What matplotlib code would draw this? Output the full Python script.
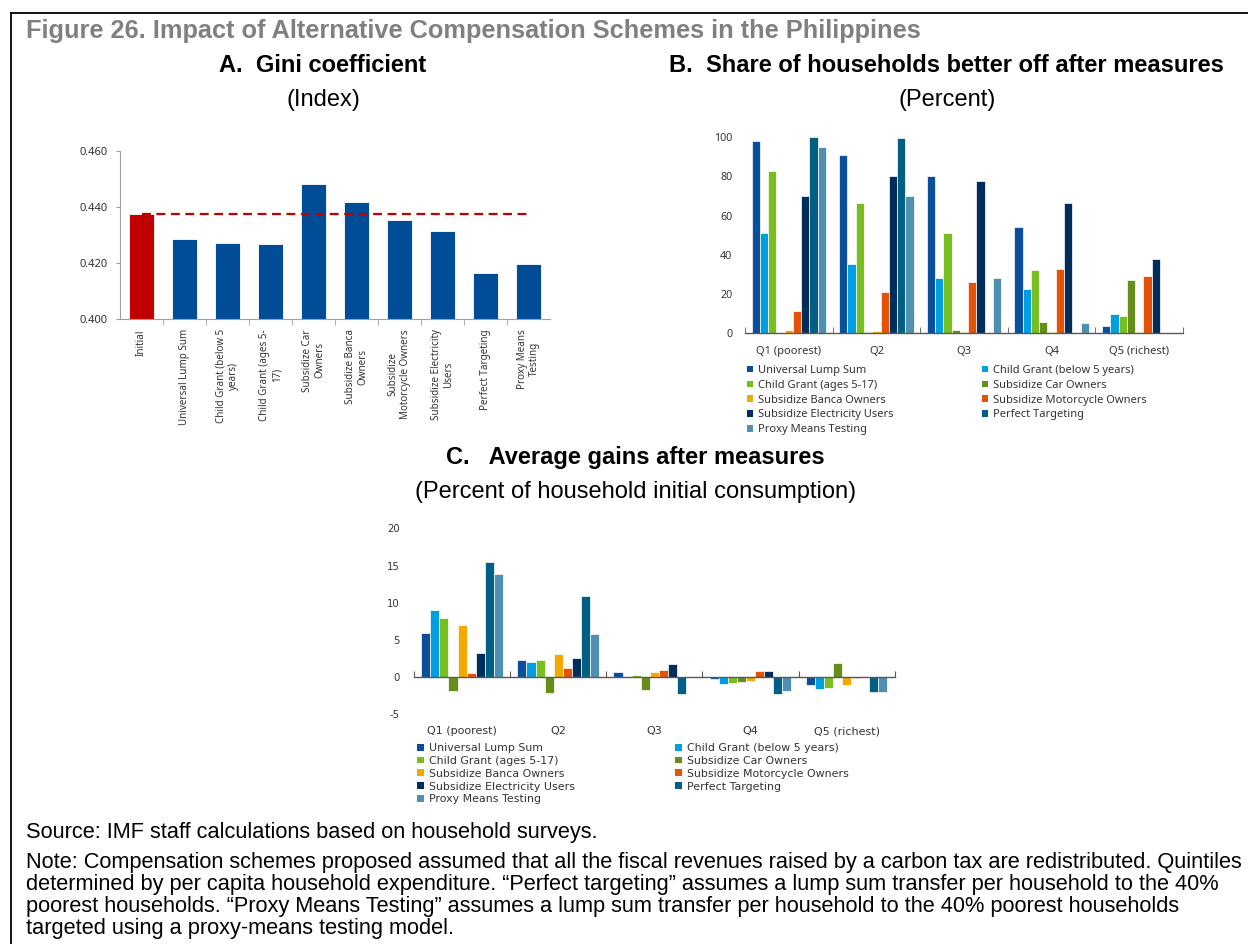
import matplotlib
matplotlib.use("Agg")
import matplotlib.pyplot as plt
import numpy as np
from matplotlib.lines import Line2D
from matplotlib.patches import Patch

plt.rcParams["axes.unicode_minus"] = False

# -------------------------
# Data
# -------------------------
gini_labels = ["Initial", "Universal Lump Sum", "Child Grant (below 5\nyears)",
               "Child Grant (ages 5-\n17)", "Subsidize Car\nOwners",
               "Subsidize Banca\nOwners", "Subsidize\nMotorcycle Owners",
               "Subsidize Electricity\nUsers", "Perfect Targeting",
               "Proxy Means\nTesting"]
gini_values = [0.4375, 0.4286, 0.4270, 0.4269, 0.4481, 0.4417, 0.4352,
               0.4313, 0.4164, 0.4198]
gini_initial = 0.4375

quintiles = ["Q1 (poorest)", "Q2", "Q3", "Q4", "Q5 (richest)"]
schemes = ["Universal Lump Sum", "Child Grant (below 5 years)",
           "Child Grant (ages 5-17)", "Subsidize Car Owners",
           "Subsidize Banca Owners", "Subsidize Motorcycle Owners",
           "Subsidize Electricity Users", "Perfect Targeting",
           "Proxy Means Testing"]
scheme_colors = ["#0B4F9C", "#00A0E0", "#78BE20", "#658D1B", "#F2A900",
                 "#E35205", "#012D5A", "#005F83", "#4F8FB0"]

# share of households better off (percent), one list per quintile
better_q1 = [98.3, 51.4, 82.8, 0.0, 1.7, 11.2, 70.2, 100.0, 95.2]
better_q2 = [91.0, 35.5, 66.5, 0.5, 1.2, 20.9, 80.1, 99.8, 70.2]
better_q3 = [80.4, 28.1, 51.2, 1.7, 0.7, 26.2, 77.7, 0.0, 28.1]
better_q4 = [54.3, 22.8, 32.1, 5.8, 0.7, 33.0, 66.3, 0.0, 5.3]
better_q5 = [3.9, 9.7, 8.7, 27.0, 0.7, 29.4, 38.1, 0.0, 0.0]

# average gains (percent of initial consumption), one list per quintile
gains_q1 = [5.9, 9.04, 8.0, -1.83, 7.02, 0.54, 3.22, 15.44, 13.87]
gains_q2 = [2.28, 2.06, 2.28, -2.15, 3.13, 1.16, 2.55, 10.96, 5.82]
gains_q3 = [0.67, 0.0, 0.27, -1.7, 0.67, 0.98, 1.79, -2.33, 0.0]
gains_q4 = [-0.22, -0.9, -0.85, -0.72, -0.49, 0.85, 0.85, -2.24, -1.92]
gains_q5 = [-1.07, -1.66, -1.52, 1.83, -1.12, -0.13, 0.0, -2.06, -2.06]

footnote_lines = [
    "Source: IMF staff calculations based on household surveys.",
    "Note: Compensation schemes proposed assumed that all the fiscal revenues raised by a carbon tax are redistributed. Quintiles",
    "determined by per capita household expenditure. \u201cPerfect targeting\u201d assumes a lump sum transfer per household to the 40%",
    "poorest households. \u201cProxy Means Testing\u201d assumes a lump sum transfer per household to the 40% poorest households",
    "targeted using a proxy-means testing model.",
]

W, H = 1248, 944
fig = plt.figure(figsize=(W / 100, H / 100), dpi=100)

TITLE_FONT = "Liberation Sans"
AXIS_FONT = "Noto Sans"
C_FONT = "DejaVu Sans"


def px_axes(x0, y0, x1, y1):
    return fig.add_axes([x0 / W, 1 - y1 / H, (x1 - x0) / W, (y1 - y0) / H])


def ftext(x, y, s, **kw):
    return fig.text(x / W, 1 - y / H, s, **kw)


# frame
fig.add_artist(Line2D([10.5 / W, 1.0], [1 - 12.5 / H, 1 - 12.5 / H],
                      color="black", lw=1.3, transform=fig.transFigure))
fig.add_artist(Line2D([10.5 / W, 10.5 / W], [1 - 12.5 / H, 0.0],
                      color="black", lw=1.3, transform=fig.transFigure))

# titles
ftext(26, 31, "Figure 26. Impact of Alternative Compensation Schemes in the Philippines",
      family=TITLE_FONT, fontsize=18.3, fontweight="bold", color="#808080",
      ha="left", va="center")
ftext(323, 65, "A.  Gini coefficient", family=TITLE_FONT, fontsize=17,
      fontweight="bold", ha="center", va="center")
ftext(323, 100, "(Index)", family=TITLE_FONT, fontsize=17, ha="center", va="center")
ftext(946, 65, "B.  Share of households better off after measures",
      family=TITLE_FONT, fontsize=17, fontweight="bold", ha="center", va="center")
ftext(947, 100, "(Percent)", family=TITLE_FONT, fontsize=17, ha="center", va="center")
ftext(635, 458, "C.   Average gains after measures", family=TITLE_FONT,
      fontsize=17, fontweight="bold", ha="center", va="center")
ftext(636, 492, "(Percent of household initial consumption)", family=TITLE_FONT,
      fontsize=17, ha="center", va="center")

# -------------------------
# Panel A
# -------------------------
ax_a = px_axes(120, 150.7, 550, 319.3)
xa = np.arange(len(gini_values))
a_colors = ["#C00000"] + ["#004C97"] * (len(gini_values) - 1)
ax_a.bar(xa, gini_values, width=0.59, color=a_colors, edgecolor="white", lw=0.6)
ax_a.hlines(gini_initial, xa[0], xa[-1], colors="#C00000", linestyles=(0, (4, 2.5)), lw=1.6)
ax_a.set_xlim(-0.5, len(gini_values) - 0.5)
ax_a.set_ylim(0.400, 0.460)
ax_a.set_yticks([0.400, 0.420, 0.440, 0.460])
ax_a.set_yticklabels(["%.3f" % v for v in [0.400, 0.420, 0.440, 0.460]])
ax_a.set_xticks(xa)
ax_a.set_xticklabels(gini_labels, rotation=90, ha="center", va="top",
                     multialignment="center")
ax_a.set_xticks(np.arange(0.5, len(gini_values) - 0.5), minor=True)
ax_a.tick_params(axis="x", which="major", length=0, pad=7, labelsize=7.1, labelcolor="#333333")
ax_a.tick_params(axis="x", which="minor", length=4, direction="out", color="#A0A0A0")
ax_a.tick_params(axis="y", length=3, direction="out", pad=6, labelsize=8,
                 color="#A0A0A0", labelcolor="#333333")
for lab in ax_a.get_xticklabels() + ax_a.get_yticklabels():
    lab.set_family(AXIS_FONT)
for side in ["top", "right"]:
    ax_a.spines[side].set_visible(False)
for side in ["left", "bottom"]:
    ax_a.spines[side].set_color("#A0A0A0")
    ax_a.spines[side].set_linewidth(0.8)

# -------------------------
# Panels B and C
# -------------------------
better = np.array([better_q1, better_q2, better_q3, better_q4, better_q5])
gains = np.array([gains_q1, gains_q2, gains_q3, gains_q4, gains_q5])
xq = np.arange(len(quintiles))
slot = 0.85 / len(schemes)
offsets = (np.arange(len(schemes)) - (len(schemes) - 1) / 2) * slot

order = [0, 2, 4, 6, 8, 1, 3, 5, 7]  # row-major legend in two columns
handles = [Patch(facecolor=c, edgecolor="none") for c in scheme_colors]

# Panel B
ax_b = px_axes(745, 137.3, 1183, 333.3)
for j, name in enumerate(schemes):
    ax_b.bar(xq + offsets[j], better[:, j], width=slot, color=scheme_colors[j],
             edgecolor="white", lw=0.5, label=name)
ax_b.set_xlim(-0.5, len(quintiles) - 0.5)
ax_b.set_ylim(0, 100)
ax_b.set_yticks([0, 20, 40, 60, 80, 100])
ax_b.set_xticks(xq)
ax_b.set_xticklabels(quintiles)
ax_b.set_xticks(np.arange(-0.5, len(quintiles)), minor=True)
ax_b.tick_params(axis="x", which="major", length=0, pad=9, labelsize=8, labelcolor="#333333")
ax_b.tick_params(axis="x", which="minor", length=4, direction="in", color="#595959")
ax_b.tick_params(axis="y", length=0, pad=9, labelsize=7.7, labelcolor="#333333")
for lab in ax_b.get_xticklabels() + ax_b.get_yticklabels():
    lab.set_family(AXIS_FONT)
for side in ["top", "right", "left"]:
    ax_b.spines[side].set_visible(False)
ax_b.spines["bottom"].set_color("#595959")
ax_b.spines["bottom"].set_linewidth(1.0)
leg_b = ax_b.legend([handles[i] for i in order], [schemes[i] for i in order],
                    ncol=2, loc="upper left", frameon=False,
                    bbox_to_anchor=(747 / W, 1 - 365 / H), bbox_transform=fig.transFigure,
                    borderpad=0, borderaxespad=0, handlelength=0.55, handleheight=0.55,
                    handletextpad=0.45, columnspacing=7.95, labelspacing=0.34,
                    prop={"family": AXIS_FONT, "size": 8})
for t in leg_b.get_texts():
    t.set_color("#333333")

# Panel C
ax_c = px_axes(414, 528.3, 894.7, 714.3)
for j, name in enumerate(schemes):
    ax_c.bar(xq + offsets[j], gains[:, j], width=slot, color=scheme_colors[j],
             edgecolor="white", lw=0.5, label=name)
ax_c.set_xlim(-0.5, len(quintiles) - 0.5)
ax_c.set_ylim(-5, 20)
ax_c.set_yticks([-5, 0, 5, 10, 15, 20])
ax_c.spines["bottom"].set_position(("data", 0))
ax_c.set_xticks(np.arange(-0.5, len(quintiles)))
ax_c.set_xticklabels([])
ax_c.tick_params(axis="x", length=4, direction="in", color="#595959")
ax_c.tick_params(axis="y", length=0, pad=10, labelsize=7.3, labelcolor="#333333")
for lab in ax_c.get_yticklabels():
    lab.set_family(C_FONT)
for side in ["top", "right", "left"]:
    ax_c.spines[side].set_visible(False)
ax_c.spines["bottom"].set_color("#595959")
ax_c.spines["bottom"].set_linewidth(1.0)
for i, q in enumerate(quintiles):
    ax_c.annotate(q, xy=(xq[i], 0), xycoords=("data", "axes fraction"),
                  xytext=(0, -8.5), textcoords="offset points", ha="center", va="top",
                  family=C_FONT, fontsize=8, color="#333333")
leg_c = ax_c.legend([handles[i] for i in order], [schemes[i] for i in order],
                    ncol=2, loc="upper left", frameon=False,
                    bbox_to_anchor=(417 / W, 1 - 743 / H), bbox_transform=fig.transFigure,
                    borderpad=0, borderaxespad=0, handlelength=0.6, handleheight=0.6,
                    handletextpad=0.45, columnspacing=9.2, labelspacing=0.26,
                    prop={"family": C_FONT, "size": 7.9})
for t in leg_c.get_texts():
    t.set_color("#333333")

# -------------------------
# Footnotes
# -------------------------
foot_y = [838, 868, 890, 912, 934]
for y, line in zip(foot_y, footnote_lines):
    ftext(26, y, line, family=TITLE_FONT, fontsize=15.65, ha="left", va="baseline")

fig.savefig("out.png", dpi=100)
